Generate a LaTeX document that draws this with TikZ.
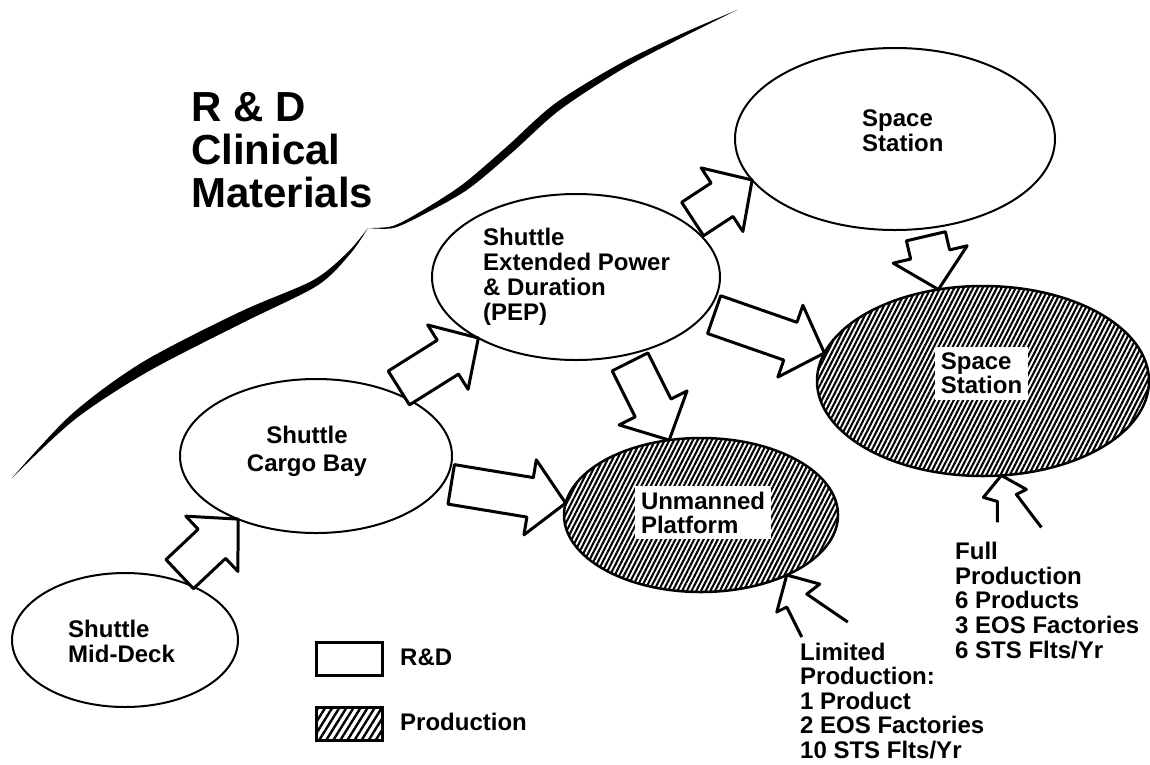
\documentclass[tikz,border=0pt]{standalone}
\usepackage{fontspec}
\setmainfont{Liberation Sans}
\usepackage{tikz}
\usetikzlibrary{shapes.geometric, calc, patterns.meta}
\tikzstyle{rdoval} = [draw, ellipse, line width=2pt, fill=white, inner sep=0pt, outer sep=0pt]
\tikzstyle{prodoval} = [draw, ellipse, line width=2.5pt, inner sep=0pt, outer sep=0pt, pattern={Lines[angle=63,distance=4.2pt,line width=2.1pt]}]
\tikzstyle{ovaltext} = [inner sep=0pt, align=left, anchor=north west, font=\fontsize{24}{25}\selectfont\bfseries]
\tikzstyle{prodtext} = [fill=white, inner sep=6pt, align=left, font=\fontsize{24}{24}\selectfont\bfseries]
\tikzstyle{bigarrow} = [draw, fill=white, line width=3pt, line join=round]
\tikzstyle{bolt} = [line width=3pt, line join=round]
\tikzstyle{legendbox} = [draw, line width=3pt, minimum width=66pt, minimum height=33pt, inner sep=0pt]
\newcommand{\blockarrow}[2]{%
  \path ($(#1)!8pt!(#2)$) coordinate (ba tail) ($(#2)!36pt!(#1)$) coordinate (ba head);
  \draw[bigarrow] ($(ba tail)!20pt!90:(#2)$) -- ($(ba head)!20pt!90:(#2)$)
    -- ($(ba head)!38pt!90:(#2)$) -- (#2) -- ($(ba head)!38pt!-90:(#2)$)
    -- ($(ba head)!20pt!-90:(#2)$) -- ($(ba tail)!20pt!-90:(#2)$) -- cycle;
}

\begin{document}
\begin{tikzpicture}[x=1pt, y=-1pt]
    \useasboundingbox (0,0) rectangle (1150,764);

    % --- R&D boundary
    \fill plot[smooth] coordinates {(12,478) (71.3,414.5) (142.25,362.3) (239.7,312) (312.7,280.4) (347.8,252.1) (368,228)}
      -- plot[smooth] coordinates {(368,228) (350.2,253.9) (317.3,285.6) (244.3,322) (147.75,371.7) (74.7,419.5) (12,478)} -- cycle;
    \fill plot[smooth] coordinates {(368,228) (392.7,226) (421,211.3) (462.7,184.3) (506.3,147.1) (554.6,103.8) (618.5,64.4) (678.3,35.3) (737,10)}
      -- plot[smooth] coordinates {(737,10) (679.7,38.7) (621.5,69.6) (559.4,110.2) (511.7,152.9) (467.3,189.7) (423,214.7) (393.3,228) (368,228)} -- cycle;
    \node[inner sep=0pt, align=left, anchor=north west, font=\fontsize{42}{43}\selectfont\bfseries] (title) at (191,92) {R \& D\\Clinical\\Materials};

    % --- R&D ovals
    \node[rdoval, minimum width=226pt, minimum height=134pt] (middeck) at (125,640) {};
    \node[ovaltext] (middecktxt) at (68,619.7) {Shuttle\\Mid-Deck};
    \node[rdoval, minimum width=272pt, minimum height=154pt] (cargo) at (316,456) {};
    \node[ovaltext, anchor=north, align=center] (cargotxt) at (307,425.7) {Shuttle\\[3pt]Cargo Bay};
    \node[rdoval, minimum width=288pt, minimum height=166pt] (pep) at (576,277) {};
    \node[ovaltext] (peptxt) at (483,227.7) {Shuttle\\Extended Power\\\& Duration\\(PEP)};
    \node[rdoval, minimum width=320pt, minimum height=182pt] (ssup) at (895,139) {};
    \node[ovaltext] (ssuptxt) at (862,109.7) {Space\\Station};

    % --- Production ovals
    \node[prodoval, minimum width=274pt, minimum height=154pt] (platform) at (701,515) {};
    \node[prodtext] (platformtxt) at (703,512.5) {Unmanned\\Platform};
    \node[prodoval, minimum width=332pt, minimum height=190pt] (ssprod) at (983,381) {};
    \node[prodtext] (ssprodtxt) at (981.5,373.5) {Space\\Station};

    % --- block arrows
    \blockarrow{middeck.51}{cargo.219}
    \blockarrow{cargo.40}{pep.212}
    \blockarrow{pep.26}{ssup.196}
    \blockarrow{pep.345}{ssprod.170}
    \blockarrow{pep.303}{platform.113}
    \blockarrow{cargo.348}{platform.175}
    \blockarrow{ssup.288}{ssprod.116}

    % --- production notes
    \node[ovaltext, font=\fontsize{24}{24.5}\selectfont\bfseries] (limited) at (800,642.7) {Limited\\Production:\\1 Product\\2 EOS Factories\\10 STS Flts/Yr};
    \coordinate (limtip) at (platform.325);
    \draw[bolt] ($(limtip)+(15,62)$) -- ($(limtip)+(0,32)$) -- ($(limtip)+(-10,37)$) -- (limtip) -- ++(33,9) -- ++(-13,10) -- ++(41,28);
    \node[ovaltext, font=\fontsize{24}{24.75}\selectfont\bfseries] (full) at (955,541.7) {Full\\Production\\6 Products\\3 EOS Factories\\6 STS Flts/Yr};
    \coordinate (fulltip) at (ssprod.281);
    \draw[bolt] ($(fulltip)+(-4,47)$) -- ($(fulltip)+(-4,26)$) -- ($(fulltip)+(-18,22)$) -- (fulltip) -- ++(25,14) -- ++(-10,5) -- ++(25,33);

    % --- legend
    \node[legendbox, fill=white] (rdkey) at (349,658.5) {};
    \node[anchor=base west, inner sep=0pt, font=\fontsize{24}{24}\selectfont\bfseries] (rdkeytxt) at (400,665) {R\&D};
    \node[legendbox, pattern={Lines[angle=58,distance=6pt,line width=2.4pt]}] (prodkey) at (349.5,723.5) {};
    \node[anchor=base west, inner sep=0pt, font=\fontsize{24}{24}\selectfont\bfseries] (prodkeytxt) at (400,730) {Production};

\end{tikzpicture}
\end{document}
